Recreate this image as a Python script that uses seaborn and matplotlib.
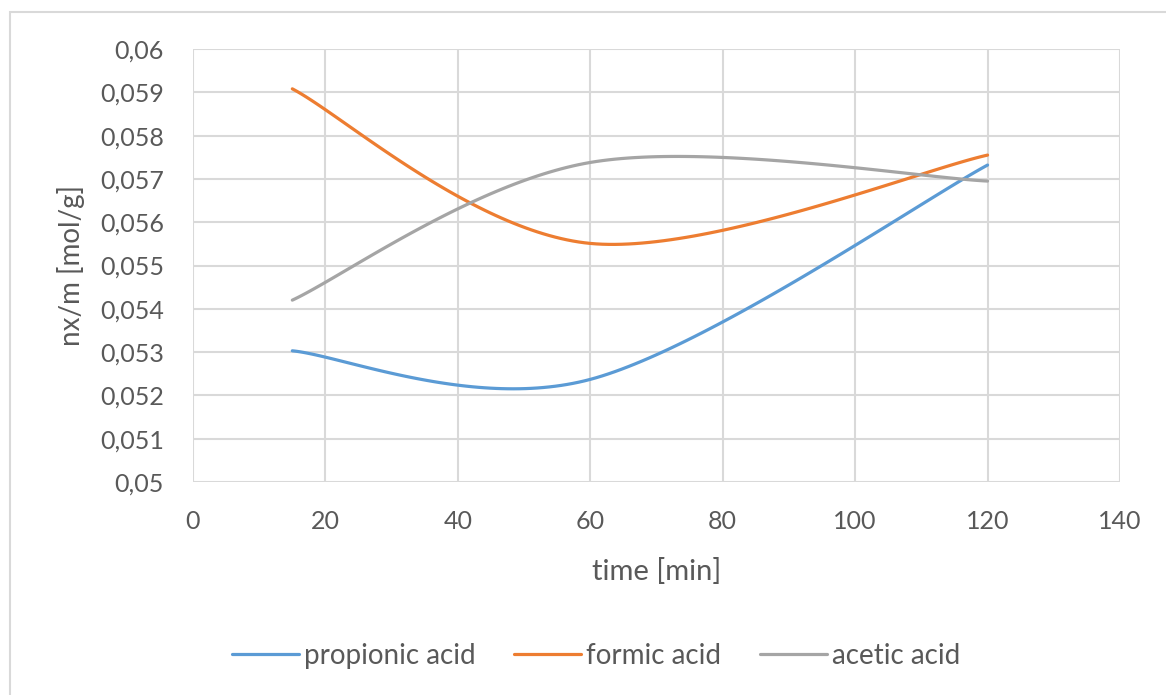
import numpy as np
import pandas as pd
import matplotlib
matplotlib.use("Agg")
import matplotlib.pyplot as plt
import seaborn as sns
from matplotlib.ticker import FuncFormatter, MultipleLocator
from matplotlib.patches import Rectangle

# ---- data ----
time_min = [15, 60, 120]
propionic = [0.05303, 0.05237, 0.05732]
formic = [0.05908, 0.05551, 0.05755]
acetic = [0.05420, 0.05738, 0.05695]
series_names = ["propionic acid", "formic acid", "acetic acid"]
colors = ["#5b9bd5", "#ed7d31", "#a5a5a5"]


def smooth(xs, ys, n=60):
    """Excel-like smoothed line (Catmull-Rom / Bezier through points)."""
    xs = np.asarray(xs, float)
    ys = np.asarray(ys, float)
    px = np.concatenate([[xs[0]], xs, [xs[-1]]])
    py = np.concatenate([[ys[0]], ys, [ys[-1]]])
    ox, oy = [], []
    for i in range(1, len(px) - 2):
        p0x, p1x, p2x, p3x = px[i - 1], px[i], px[i + 1], px[i + 2]
        p0y, p1y, p2y, p3y = py[i - 1], py[i], py[i + 1], py[i + 2]
        c1x = p1x + (p2x - p0x) / 6
        c1y = p1y + (p2y - p0y) / 6
        c2x = p2x - (p3x - p1x) / 6
        c2y = p2y - (p3y - p1y) / 6
        t = np.linspace(0, 1, n, endpoint=(i == len(px) - 3))
        b0 = (1 - t) ** 3
        b1 = 3 * (1 - t) ** 2 * t
        b2 = 3 * (1 - t) * t ** 2
        b3 = t ** 3
        ox.append(b0 * p1x + b1 * c1x + b2 * c2x + b3 * p2x)
        oy.append(b0 * p1y + b1 * c1y + b2 * c2y + b3 * p2y)
    return np.concatenate(ox), np.concatenate(oy)


frames = []
for name, vals in zip(series_names, [propionic, formic, acetic]):
    sx, sy = smooth(time_min, vals)
    frames.append(pd.DataFrame({"time": sx, "value": sy, "series": name}))
df = pd.concat(frames, ignore_index=True)

sns.set_theme(style="white")
plt.rcParams["font.family"] = ["Lato", "DejaVu Sans"]

fig = plt.figure(figsize=(11.66, 6.95), dpi=100)
ax = fig.add_axes([193 / 1166, 1 - 482 / 695, (1120 - 193) / 1166, (482 - 49) / 695])

sns.lineplot(data=df, x="time", y="value", hue="series", hue_order=series_names,
             palette=colors, sort=False, estimator=None, units="series",
             linewidth=2.3, ax=ax, legend=True)

ax.set_xlim(0, 140)
ax.set_ylim(0.05, 0.06)
ax.xaxis.set_major_locator(MultipleLocator(20))
ax.yaxis.set_major_locator(MultipleLocator(0.001))
ax.yaxis.set_major_formatter(FuncFormatter(lambda v, p: f"{round(v, 4):g}".replace(".", ",")))
ax.grid(True, color="#d9d9d9", linewidth=1.5)
ax.set_axisbelow(True)
for s in ax.spines.values():
    s.set_visible(False)
ax.tick_params(axis="both", length=0, labelsize=18, labelcolor="#595959")
ax.tick_params(axis="x", pad=20)
ax.tick_params(axis="y", pad=21)
ax.set_xlabel("time [min]", fontsize=21, color="#595959", labelpad=18)
ax.set_ylabel("nx/m [mol/g]", fontsize=20, color="#595959", labelpad=11)

handles, labels = ax.get_legend_handles_labels()
ax.legend(handles, labels, loc="center", bbox_to_anchor=(596 / 1166, 1 - 656 / 695),
          bbox_transform=fig.transFigure, ncol=3, frameon=False, fontsize=20,
          handlelength=2.4, handletextpad=0.18, columnspacing=1.4,
          labelcolor="#595959")

fig.patches.append(Rectangle((10 / 1166, -0.01), 1.02, 1 - 12 / 695 + 0.01,
                             transform=fig.transFigure, fill=False,
                             edgecolor="#d9d9d9", linewidth=1.5))

fig.savefig("out.png", dpi=100, facecolor="white")
